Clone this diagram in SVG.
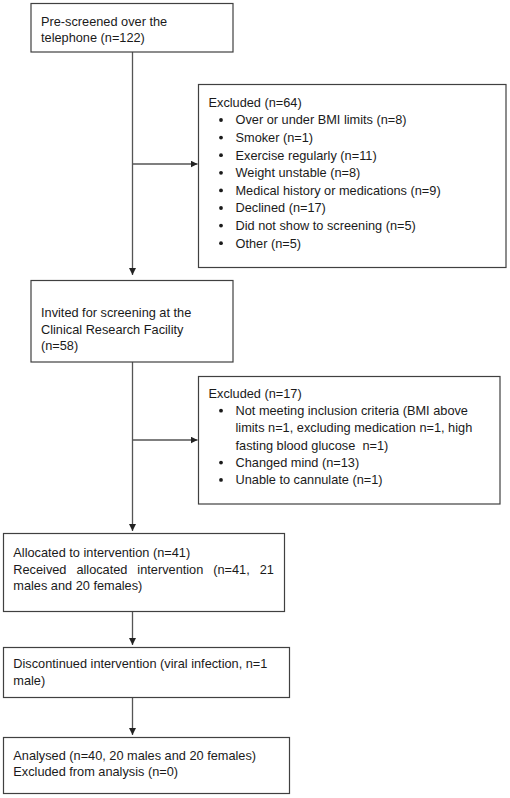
<svg xmlns="http://www.w3.org/2000/svg" width="510" height="798" viewBox="0 0 510 798">
<style>
.box{fill:#fff;stroke:#404040;stroke-width:1.2}
.t{font-family:"Liberation Sans",Arial,sans-serif;font-size:12.75px;fill:#1a1a1a}
.edge{stroke:#555;stroke-width:1.3;fill:none;marker-end:url(#ah)}
.b{fill:#1a1a1a}
</style>
<defs>
<marker id="ah" markerUnits="userSpaceOnUse" markerWidth="8" markerHeight="8" refX="7" refY="3.5" orient="auto">
<path d="M0,0 L7,3.5 L0,7 z" fill="#222"/>
</marker>
</defs>
<rect width="510" height="798" fill="#fff"/>
<g id="connectors">
<line class="edge" x1="132.5" y1="52" x2="132.5" y2="275"/>
<line class="edge" x1="132.5" y1="164" x2="197.5" y2="164"/>
<line class="edge" x1="132.5" y1="362" x2="132.5" y2="531"/>
<line class="edge" x1="132.5" y1="440" x2="197.5" y2="440"/>
<line class="edge" x1="132.5" y1="612" x2="132.5" y2="645"/>
<line class="edge" x1="132.5" y1="698" x2="132.5" y2="735"/>
</g>
<g id="prescreened">
<rect class="box" x="31" y="3.5" width="202" height="48.5"/>
<text class="t" x="41" y="25.5">Pre-screened over the</text>
<text class="t" x="41" y="41.5">telephone (n=122)</text>
</g>
<g id="excluded1">
<rect class="box" x="198.5" y="84.5" width="307.5" height="183"/>
<text class="t" x="208.5" y="106.7">Excluded (n=64)</text>
<circle class="b" cx="221" cy="120" r="1.9"/><text class="t" x="235.5" y="124.3">Over or under BMI limits (n=8)</text>
<circle class="b" cx="221" cy="137.6" r="1.9"/><text class="t" x="235.5" y="141.9">Smoker (n=1)</text>
<circle class="b" cx="221" cy="155.2" r="1.9"/><text class="t" x="235.5" y="159.5">Exercise regularly (n=11)</text>
<circle class="b" cx="221" cy="172.8" r="1.9"/><text class="t" x="235.5" y="177.1">Weight unstable (n=8)</text>
<circle class="b" cx="221" cy="190.4" r="1.9"/><text class="t" x="235.5" y="194.7">Medical history or medications (n=9)</text>
<circle class="b" cx="221" cy="208" r="1.9"/><text class="t" x="235.5" y="212.3">Declined (n=17)</text>
<circle class="b" cx="221" cy="225.6" r="1.9"/><text class="t" x="235.5" y="229.9">Did not show to screening (n=5)</text>
<circle class="b" cx="221" cy="243.2" r="1.9"/><text class="t" x="235.5" y="247.5">Other (n=5)</text>
</g>
<g id="invited">
<rect class="box" x="31" y="280.5" width="202" height="81.5"/>
<text class="t" x="41" y="317">Invited for screening at the</text>
<text class="t" x="41" y="333.5">Clinical Research Facility</text>
<text class="t" x="41" y="350">(n=58)</text>
</g>
<g id="excluded2">
<rect class="box" x="198.5" y="376.5" width="301.5" height="127.5"/>
<text class="t" x="208.5" y="397.7">Excluded (n=17)</text>
<circle class="b" cx="221" cy="410.7" r="1.9"/><text class="t" x="235.5" y="415">Not meeting inclusion criteria (BMI above</text>
<text class="t" x="235.5" y="432.3">limits n=1, excluding medication n=1, high</text>
<text class="t" x="235.5" y="449.6" xml:space="preserve">fasting blood glucose  n=1)</text>
<circle class="b" cx="221" cy="462.6" r="1.9"/><text class="t" x="235.5" y="466.9">Changed mind (n=13)</text>
<circle class="b" cx="221" cy="479.9" r="1.9"/><text class="t" x="235.5" y="484.2">Unable to cannulate (n=1)</text>
</g>
<g id="allocated">
<rect class="box" x="3.5" y="533.5" width="281" height="78"/>
<text class="t" x="13.3" y="557">Allocated to intervention (n=41)</text>
<text class="t" x="13.3" y="573.5" word-spacing="6.4">Received allocated intervention (n=41, 21</text>
<text class="t" x="13.3" y="590">males and 20 females)</text>
</g>
<g id="discontinued">
<rect class="box" x="3.5" y="647.5" width="286" height="50"/>
<text class="t" x="13.3" y="668">Discontinued intervention (viral infection, n=1</text>
<text class="t" x="13.3" y="685">male)</text>
</g>
<g id="analysed">
<rect class="box" x="3.5" y="737.5" width="286" height="56"/>
<text class="t" x="13.3" y="760">Analysed (n=40, 20 males and 20 females)</text>
<text class="t" x="13.3" y="776">Excluded from analysis (n=0)</text>
</g>
</svg>
